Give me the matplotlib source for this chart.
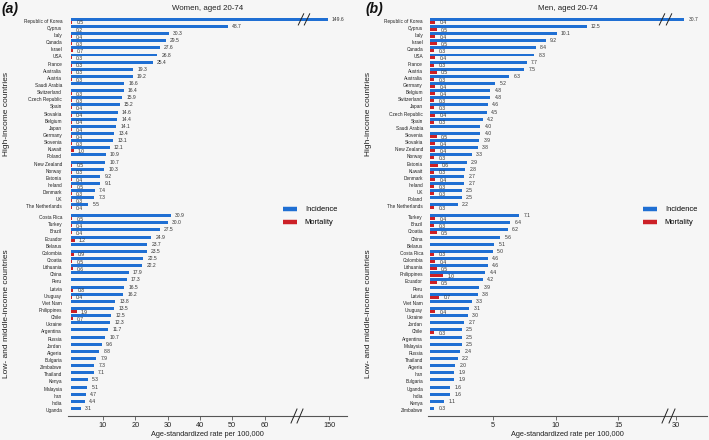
import matplotlib
matplotlib.use('Agg')
import matplotlib.pyplot as plt
import numpy as np
from matplotlib.lines import Line2D

plt.rcParams['font.family'] = ['Liberation Sans', 'DejaVu Sans']

# ---- women, aged 20-74 ----
w_hi_names = ['Republic of Korea', 'Cyprus', 'Italy', 'Canada', 'Israel', 'USA', 'France',
              'Australia', 'Austria', 'Saudi Arabia', 'Switzerland', 'Czech Republic', 'Spain',
              'Slovakia', 'Belgium', 'Japan', 'Germany', 'Slovenia', 'Kuwait', 'Poland',
              'New Zealand', 'Norway', 'Estonia', 'Ireland', 'Denmark', 'UK', 'The Netherlands']
w_hi_inc = [149.6, 48.7, 30.3, 29.5, 27.6, 26.8, 25.4, 19.3, 19.2, 16.6, 16.4, 15.9, 15.2,
            14.6, 14.4, 14.1, 13.4, 13.1, 12.1, 10.9, 10.7, 10.3, 9.2, 9.1, 7.4, 7.3, 5.5]
w_hi_mort = [0.5, 0.2, 0.4, 0.3, 0.7, 0.3, 0.3, 0.3, 0.3, None, 0.3, 0.3, 0.4,
             0.4, 0.4, 0.4, 0.4, 0.3, 1.0, None, 0.5, 0.3, 0.4, 0.5, 0.3, 0.3, 0.4]

w_lm_names = ['Costa Rica', 'Turkey', 'Brazil', 'Ecuador', 'Belarus', 'Colombia', 'Croatia',
              'Lithuania', 'China', 'Peru', 'Latvia', 'Uruguay', 'Viet Nam', 'Philippines',
              'Chile', 'Ukraine', 'Argentina', 'Russia', 'Jordan', 'Algeria', 'Bulgaria',
              'Zimbabwe', 'Thailand', 'Kenya', 'Malaysia', 'Iran', 'India', 'Uganda']
w_lm_inc = [30.9, 30.0, 27.5, 24.9, 23.7, 23.5, 22.5, 22.2, 17.9, 17.3, 16.5, 16.2, 13.8, 13.5,
            12.5, 12.3, 11.7, 10.7, 9.6, 8.8, 7.9, 7.3, 7.1, 5.3, 5.1, 4.7, 4.4, 3.1]
w_lm_mort = [0.5, 0.4, 0.4, 1.2, None, 0.9, 0.5, 0.6, None, None, 0.8, 0.4, None, 1.9,
             0.7, None, None, None, None, None, None, None, None, None, None, None, None, None]

# ---- men, aged 20-74 ----
m_hi_names = ['Republic of Korea', 'Cyprus', 'Italy', 'Israel', 'Canada', 'USA', 'France',
              'Austria', 'Australia', 'Germany', 'Belgium', 'Switzerland', 'Japan',
              'Czech Republic', 'Spain', 'Saudi Arabia', 'Slovenia', 'Slovakia', 'New Zealand',
              'Norway', 'Estonia', 'Kuwait', 'Denmark', 'Ireland', 'UK', 'Poland', 'The Netherlands']
m_hi_inc = [30.7, 12.5, 10.1, 9.2, 8.4, 8.3, 7.7, 7.5, 6.3, 5.2, 4.8, 4.8, 4.6,
            4.5, 4.2, 4.0, 4.0, 3.9, 3.8, 3.3, 2.9, 2.8, 2.7, 2.7, 2.5, 2.5, 2.2]
m_hi_mort = [0.4, 0.5, 0.4, 0.5, 0.3, 0.4, 0.3, 0.5, 0.3, 0.4, 0.4, 0.3, 0.3,
             0.4, 0.3, None, 0.5, 0.4, 0.4, 0.3, 0.6, 0.3, 0.4, 0.3, 0.3, None, 0.3]

m_lm_names = ['Turkey', 'Brazil', 'Croatia', 'China', 'Belarus', 'Costa Rica', 'Colombia',
              'Lithuania', 'Philippines', 'Ecuador', 'Peru', 'Latvia', 'Viet Nam', 'Uruguay',
              'Ukraine', 'Jordan', 'Chile', 'Argentina', 'Malaysia', 'Russia', 'Thailand',
              'Algeria', 'Iran', 'Bulgaria', 'Uganda', 'India', 'Kenya', 'Zimbabwe']
m_lm_inc = [7.1, 6.4, 6.2, 5.6, 5.1, 5.0, 4.6, 4.6, 4.4, 4.2, 3.9, 3.8, 3.3, 3.1,
            3.0, 2.7, 2.5, 2.5, 2.5, 2.4, 2.2, 2.0, 1.9, 1.9, 1.6, 1.6, 1.1, 0.3]
m_lm_mort = [0.4, 0.3, 0.5, None, None, 0.3, 0.4, 0.5, 1.0, 0.5, None, 0.7, None, 0.4,
             None, None, 0.3, None, None, None, None, None, None, None, None, None, None, None]

W, H = 709, 440
BG = '#f6f6f6'
BLUE = '#1f6fd3'
RED = '#cc2027'
TXT = '#333333'

fig = plt.figure(figsize=(W / 100, H / 100), dpi=100, facecolor=BG)


def fx(px):
    return px / W


def fy(py):
    return 1 - py / H


def broken(v, lo, gap):
    # values past the break are pulled back by `gap`
    return v - gap if v > lo else v


def slash(ax, x, y, dx, dy):
    ax.plot([x - dx, x + dx], [y + dy, y - dy], color='#222222', lw=0.7,
            clip_on=False, zorder=6)


def panel(left, right, zero, ppu, lo, gap, ticks, tick_labels, names, inc, mort,
          title, tag, ylab_x, legend_x, ypad, axis_brk, bar_brk):
    top, bottom = 12, 416
    y0, ppr = 20.8, 7.14
    ax = fig.add_axes([fx(left), fy(bottom), fx(right - left), (bottom - top) / H])
    ax.set_facecolor('none')
    ax.set_xlim((left - zero) / ppu, (right - zero) / ppu)
    ax.set_ylim((bottom - y0) / ppr, (top - y0) / ppr)

    rows = list(np.arange(len(names[0]))) + list(27.5 + np.arange(len(names[1])))
    all_names = names[0] + names[1]
    all_inc = inc[0] + inc[1]
    all_mort = mort[0] + mort[1]

    for y, v, m in zip(rows, all_inc, all_mort):
        xv = broken(v, lo, gap)
        ax.barh(y - 0.21, xv, height=0.42, color=BLUE, zorder=3)
        ax.annotate(f'{v:.1f}', xy=(xv, y - 0.21), xytext=(3, 0), textcoords='offset points',
                    ha='left', va='center', fontsize=3.6, color=TXT)
        if m is not None:
            ax.barh(y + 0.21, m, height=0.42, color=RED, zorder=3)
            ax.annotate(f'{m:.1f}', xy=(m, y + 0.3), xytext=(3, 0), textcoords='offset points',
                        ha='left', va='center', fontsize=3.6, color=TXT)

    ax.set_yticks(rows, all_names)
    ax.tick_params(axis='y', length=0, pad=ypad, labelsize=3.4, labelcolor='#222222')
    ax.set_xticks(ticks, tick_labels)
    ax.tick_params(axis='x', length=3, width=0.6, color='#555555', labelsize=5.3,
                   pad=1.5, labelcolor='#222222')
    for s in ['top', 'right', 'left']:
        ax.spines[s].set_visible(False)
    ax.spines['bottom'].set_color('#555555')
    ax.spines['bottom'].set_linewidth(0.8)
    ax.set_xlabel('Age-standardized rate per 100,000', fontsize=5.3, labelpad=1, color='#222222')

    # break marks on the axis and on the longest bar
    dx, dy = 3 / ppu, 7 / ppr
    ybot = (bottom - y0) / ppr
    for x in axis_brk:
        slash(ax, (x - zero) / ppu, ybot, dx, dy)
    for x in bar_brk:
        slash(ax, (x - zero) / ppu, -0.2, dx * 0.9, dy * 0.8)

    cx = (left + right) / 2
    fig.text(fx(cx), fy(9), title, ha='center', va='center', fontsize=5.7, color='#222222')
    fig.text(fx(tag[1]), fy(9), tag[0], ha='left', va='center', fontsize=10,
             fontweight='bold', fontstyle='italic', color='#111111')

    for lab, grp in [('High-income countries', rows[:27]),
                     ('Low- and middle-income countries', rows[27:])]:
        yc = y0 + ppr * (grp[0] + grp[-1]) / 2
        fig.text(fx(ylab_x), fy(yc), lab, rotation=90, ha='center', va='center',
                 fontsize=6, color='#222222')

    handles = [Line2D([], [], color=BLUE, lw=3.2, solid_capstyle='butt'),
               Line2D([], [], color=RED, lw=3.2, solid_capstyle='butt')]
    ax.legend(handles, ['Incidence', 'Mortality'], loc='upper left',
              bbox_to_anchor=(fx(legend_x), fy(203)), bbox_transform=fig.transFigure,
              frameon=False, fontsize=5.4, handlelength=1.9, handletextpad=1.0,
              labelspacing=0.75, borderaxespad=0, borderpad=0.4)
    return ax


panel(68, 347, 70.7, 3.23, 70, 70, [10, 20, 30, 40, 50, 60, 80],
      ['10', '20', '30', '40', '50', '60', '150'],
      (w_hi_names, w_lm_names), (w_hi_inc, w_lm_inc), (w_hi_mort, w_lm_mort),
      'Women, aged 20-74', ('(a)', 2), 7, 280, 4.3, [294, 300], [301, 307])

panel(428, 707, 430.5, 12.5, 19, 10.4, [5, 10, 15, 19.6],
      ['5', '10', '15', '30'],
      (m_hi_names, m_lm_names), (m_hi_inc, m_lm_inc), (m_hi_mort, m_lm_mort),
      'Men, aged 20-74', ('(b)', 366), 368, 640, 3.6, [665, 672], [662, 669])

fig.savefig('out.png', dpi=100, facecolor=BG)
